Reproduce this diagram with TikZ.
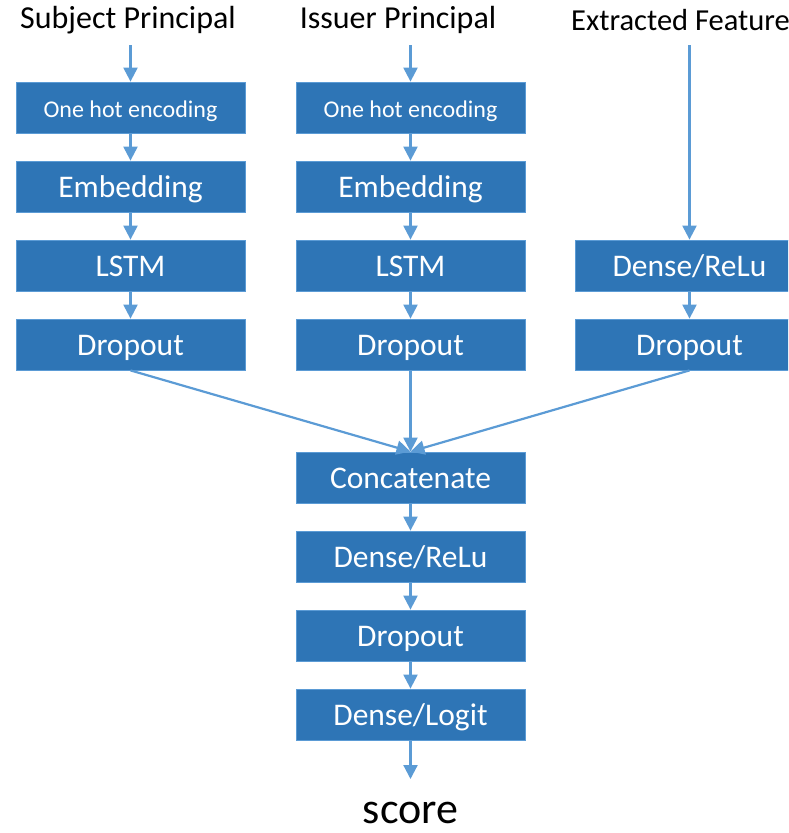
\documentclass[tikz,border=0pt]{standalone}
\usepackage{fontspec}
\setmainfont{Carlito}
\usetikzlibrary{arrows.meta}
\definecolor{boxfill}{HTML}{2E75B6}
\definecolor{boxline}{HTML}{5B9BD5}
\definecolor{arr}{HTML}{5B9BD5}
\begin{document}
\begin{tikzpicture}[x=1pt,y=-1pt,
  blk/.style={rectangle,fill=boxfill,draw=boxline,line width=0.8pt,minimum width=229pt,minimum height=51pt,inner sep=0pt,text=white,font=\fontsize{31.5}{36}\selectfont,text height=21pt,text depth=0pt},
  small/.style={font=\fontsize{24}{28}\selectfont,text height=19pt,text depth=0pt},
  head/.style={inner sep=0pt,font=\fontsize{32}{38}\selectfont},
  conn/.style={draw=arr,line width=2.2pt,-{Triangle[width=14pt,length=14pt]}}]
\useasboundingbox (0,0) rectangle (788,833);
\begin{scope}
\clip (0,0) rectangle (788,833);
% headings
\node[head] (h1) at (128,20) {Subject Principal};
\node[head] (h2) at (398,20) {Issuer Principal};
\node[head,anchor=west,font=\fontsize{30.5}{36}\selectfont] (h3) at (571,20) {Extracted Features};
\coordinate (s1) at (130.5,45);
\coordinate (s2) at (410.5,45);
\coordinate (s3) at (689.5,45);
% column 1
\node[blk,small] (a1) at (130.5,107.5) {One hot encoding};
\node[blk] (a2) at (130.5,186.5) {Embedding};
\node[blk] (a3) at (130.5,265.5) {LSTM};
\node[blk] (a4) at (130.5,344.5) {Dropout};
% column 2
\node[blk,small] (b1) at (410.5,107.5) {One hot encoding};
\node[blk] (b2) at (410.5,186.5) {Embedding};
\node[blk] (b3) at (410.5,265.5) {LSTM};
\node[blk] (b4) at (410.5,344.5) {Dropout};
% column 3
\node[blk] (c3) at (689.5,265.5) {Dense/ReLu};
\node[blk] (c4) at (689.5,344.5) {Dropout};
% merge
\node[blk] (m1) at (410.5,477.5) {Concatenate};
\node[blk] (m2) at (410.5,556.5) {Dense/ReLu};
\node[blk] (m3) at (410.5,635.5) {Dropout};
\node[blk] (m4) at (410.5,714.5) {Dense/Logit};
\node[inner sep=0pt,font=\fontsize{44}{50}\selectfont] (sc) at (410.5,813) {score};
\coordinate (e) at (410.5,779);
% connectors
\draw[conn] (s1) -- (a1.north);
\draw[conn] (a1) -- (a2);
\draw[conn] (a2) -- (a3);
\draw[conn] (a3) -- (a4);
\draw[conn] (s2) -- (b1.north);
\draw[conn] (b1) -- (b2);
\draw[conn] (b2) -- (b3);
\draw[conn] (b3) -- (b4);
\draw[conn] (s3) -- (c3.north);
\draw[conn] (c3) -- (c4);
\draw[conn] (a4.south) -- (m1.north);
\draw[conn] (b4.south) -- (m1.north);
\draw[conn] (c4.south) -- (m1.north);
\draw[conn] (m1) -- (m2);
\draw[conn] (m2) -- (m3);
\draw[conn] (m3) -- (m4);
\draw[conn] (m4.south) -- (e);
\end{scope}
\end{tikzpicture}
\end{document}
